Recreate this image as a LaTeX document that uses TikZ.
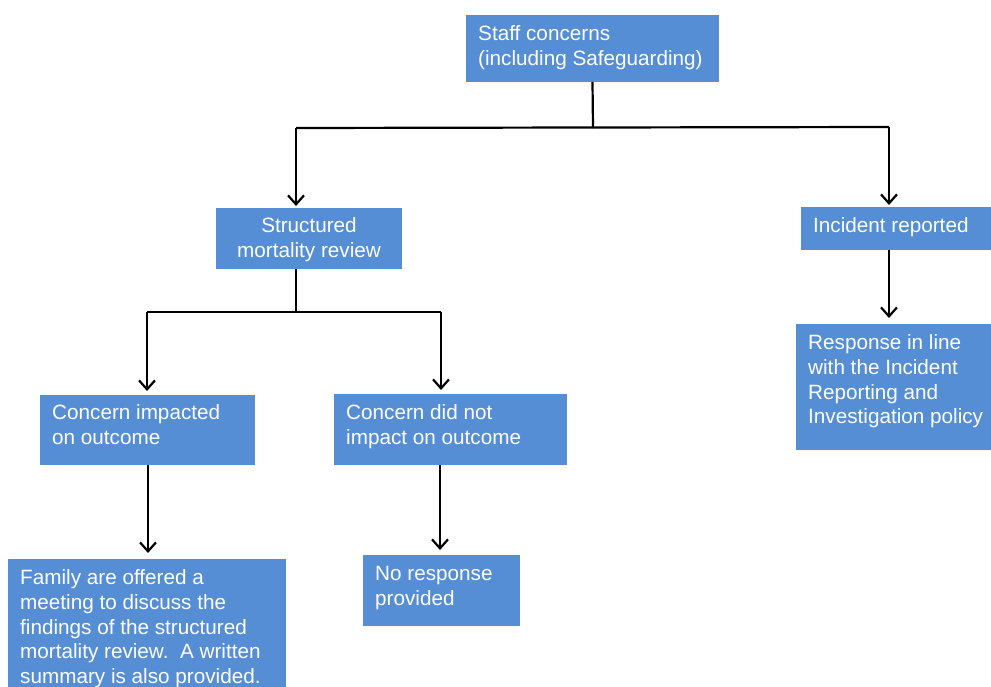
\documentclass[tikz,border=0pt]{standalone}
\usepackage{fontspec}
\setmainfont{Liberation Sans}
\usetikzlibrary{arrows.meta}
\definecolor{boxblue}{HTML}{558ED5}
\tikzset{
  box/.style={fill=boxblue, draw=none, anchor=north west, inner sep=0pt, outer sep=0pt},
  txt/.style={text=white, font=\fontsize{20.7}{24.6}\selectfont, inner sep=0pt, align=left, anchor=north west},
  conn/.style={line width=2.2pt, black},
  arr/.style={conn, -{Straight Barb[length=9pt,width=16pt,line width=2.2pt]}}
}
\begin{document}
\begin{tikzpicture}[x=1pt,y=-1pt]
\fill[white] (0,0) rectangle (991,687);
\useasboundingbox (0,0) rectangle (991,687);
% boxes
\node[box, minimum width=253pt, minimum height=67pt] (staff) at (466,15) {};
\node[box, minimum width=186pt, minimum height=61pt] (smr) at (216,208) {};
\node[box, minimum width=200pt, minimum height=43pt] (inc) at (801,207) {};
\node[box, minimum width=205pt, minimum height=126pt] (resp) at (796,324) {};
\node[box, minimum width=215pt, minimum height=70pt] (imp) at (40,395) {};
\node[box, minimum width=233pt, minimum height=71pt] (nimp) at (334,394) {};
\node[box, minimum width=278pt, minimum height=140pt] (fam) at (8,559) {};
\node[box, minimum width=157pt, minimum height=71pt] (nores) at (363,555) {};
% texts
\node[txt] (stafft) at (478,23.5) {Staff concerns\strut\\(including Safeguarding)\strut};
\node[txt, align=center, anchor=north] (smrt) at (309,215.5) {Structured\strut\\mortality review\strut};
\node[txt] (inct) at (813,215.5) {Incident reported\strut};
\node[txt] (respt) at (808,332.5) {Response in line\strut\\with the Incident\strut\\Reporting and\strut\\Investigation policy\strut};
\node[txt] (impt) at (52,402.5) {Concern impacted\strut\\on outcome\strut};
\node[txt] (nimpt) at (346,402.5) {Concern did not\strut\\impact on outcome\strut};
\node[txt] (famt) at (20,567.5) {Family are offered a\strut\\meeting to discuss the\strut\\findings of the structured\strut\\mortality review.\ \ A written\strut\\summary is also provided.\strut};
\node[txt] (norest) at (375,563.5) {No response\strut\\provided\strut};
% junctions
\coordinate (j1) at (593,128);
\coordinate (j1l) at (296,128);
\coordinate (j1r) at (889,127);
\coordinate (j2) at (296,312);
\coordinate (j2l) at (147,312);
\coordinate (j2r) at (441,312);
% connectors
\draw[conn] (staff.south) -- (j1);
\draw[conn] (j1l) -- (j1r);
\draw[arr, shorten >=2pt] (j1l) -- (j1l |- smr.north);
\draw[arr, shorten >=2pt] (j1r) -- (j1r |- inc.north);
\draw[conn] (j2 |- smr.south) -- (j2);
\draw[conn] (j2l) -- (j2r);
\draw[arr, shorten >=4pt] (j2l) -- (j2l |- imp.north);
\draw[arr, shorten >=4pt] (j2r) -- (j2r |- nimp.north);
\draw[arr, shorten >=6pt] ([xshift=108pt]imp.south west) -- ([xshift=108pt]imp.south west |- fam.north);
\draw[arr, shorten >=5pt] ([xshift=106pt]nimp.south west) -- ([xshift=106pt]nimp.south west |- nores.north);
\draw[arr, shorten >=6pt] ([xshift=88pt]inc.south west) -- ([xshift=88pt]inc.south west |- resp.north);
\end{tikzpicture}
\end{document}
